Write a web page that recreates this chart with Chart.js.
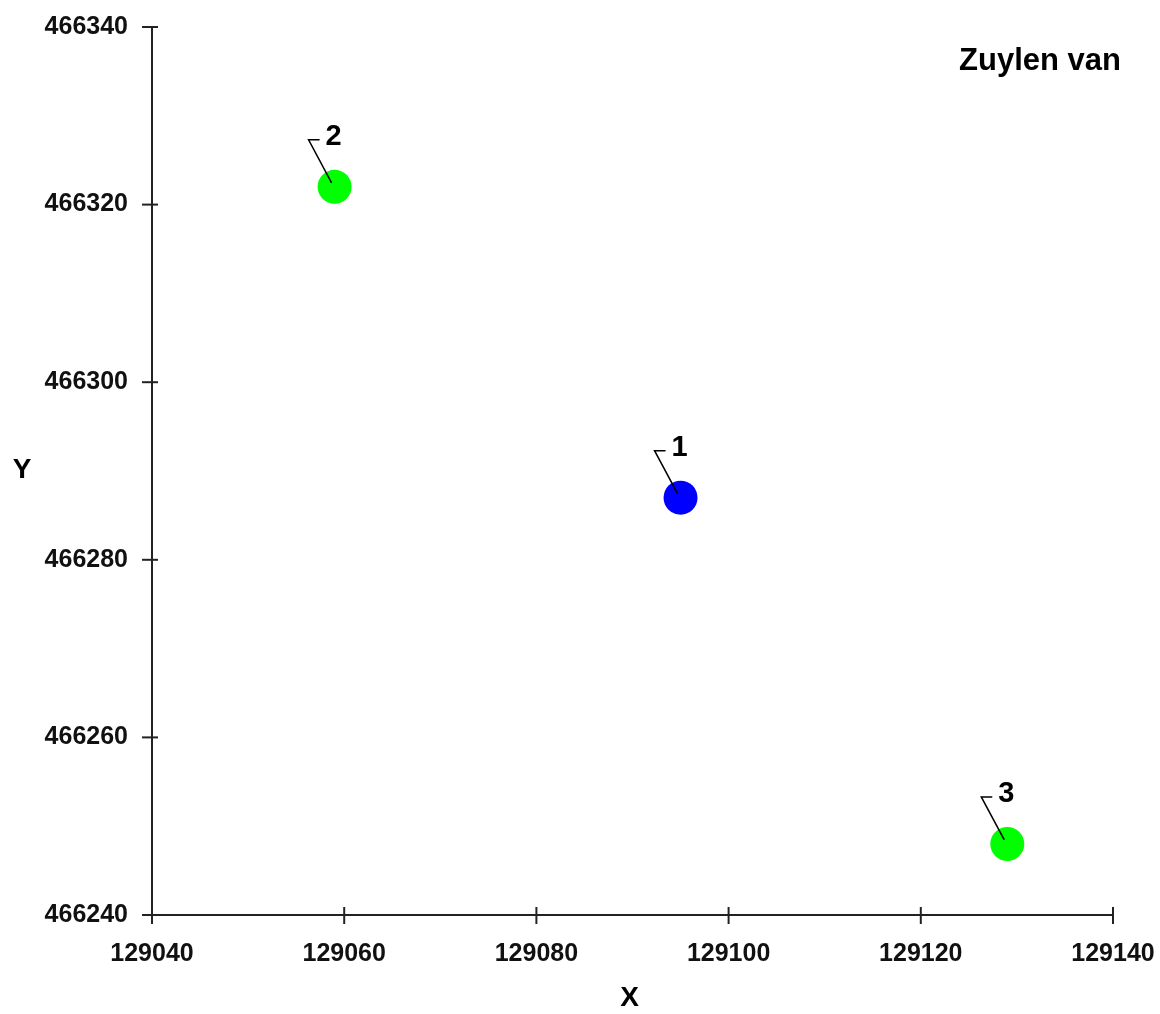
<!DOCTYPE html>
<html>
<head>
<meta charset="utf-8">
<script src="https://cdn.jsdelivr.net/npm/chart.js@4"></script>
<style>
  html, body { margin: 0; padding: 0; background: #fff; }
  #wrap { width: 1160px; height: 1014px; }
</style>
</head>
<body>
<div id="wrap"><canvas id="c" width="1160" height="1014"></canvas></div>
<script>
// ---- data ----
const pointLabels = ['1', '2', '3'];
const xValues = [129095, 129059, 129129];
const yValues = [466287, 466322, 466248];
const xTicks = [129040, 129060, 129080, 129100, 129120, 129140];
const yTicks = [466240, 466260, 466280, 466300, 466320, 466340];
const chartTitle = 'Zuylen van';
const xTitle = 'X';
const yTitle = 'Y';

// ---- styles ----
const pointColors = ['#0000FF', '#00FF00', '#00FF00'];
const FONT = '"Liberation Sans", Arial, sans-serif';

const points = xValues.map((x, i) => ({ x: x, y: yValues[i] }));

const overlay = {
  id: 'overlay',
  afterDatasetsDraw(chart) {
    const ctx = chart.ctx;
    const xs = chart.scales.x, ys = chart.scales.y;
    const a = chart.chartArea;
    ctx.save();
    // tick marks crossing the axes
    ctx.strokeStyle = '#222';
    ctx.lineWidth = 2;
    xTicks.forEach(v => {
      const px = xs.getPixelForValue(v);
      ctx.beginPath(); ctx.moveTo(px, a.bottom - 8); ctx.lineTo(px, a.bottom + 9); ctx.stroke();
    });
    yTicks.forEach(v => {
      const py = ys.getPixelForValue(v);
      ctx.beginPath(); ctx.moveTo(a.left - 10, py); ctx.lineTo(a.left + 6, py); ctx.stroke();
    });
    // leader lines and point labels
    const meta = chart.getDatasetMeta(0);
    ctx.lineWidth = 1.5;
    ctx.strokeStyle = '#000';
    ctx.fillStyle = '#000';
    ctx.font = 'bold 29px ' + FONT;
    ctx.textBaseline = 'middle';
    ctx.textAlign = 'left';
    meta.data.forEach((el, i) => {
      const cx = el.x, cy = el.y;
      ctx.beginPath();
      ctx.moveTo(cx - 3, cy - 4);
      ctx.lineTo(cx - 26, cy - 47);
      ctx.lineTo(cx - 15, cy - 47);
      ctx.stroke();
      ctx.fillText(pointLabels[i], cx - 9, cy - 50);
    });
    // title inside plot
    ctx.font = 'bold 31px ' + FONT;
    ctx.textAlign = 'right';
    ctx.textBaseline = 'alphabetic';
    ctx.fillText(chartTitle, 1121, 70);
    // axis titles
    ctx.font = 'bold 28px ' + FONT;
    ctx.textAlign = 'center';
    ctx.textBaseline = 'middle';
    ctx.fillText(xTitle, (a.left + a.right) / 2 - 3, 998);
    ctx.fillText(yTitle, 22, 470);
    ctx.restore();
  }
};

new Chart(document.getElementById('c'), {
  type: 'scatter',
  data: {
    datasets: [{
      data: points,
      pointRadius: 17,
      pointHoverRadius: 17,
      pointBorderWidth: 0,
      borderWidth: 0,
      backgroundColor: pointColors,
      pointBackgroundColor: pointColors
    }]
  },
  options: {
    responsive: false,
    animation: false,
    events: [],
    layout: { padding: { left: 0, top: 27, right: 47, bottom: 0 } },
    plugins: { legend: { display: false }, tooltip: { enabled: false }, title: { display: false } },
    scales: {
      x: {
        type: 'linear',
        min: xTicks[0], max: xTicks[xTicks.length - 1],
        afterBuildTicks: s => { s.ticks = xTicks.map(v => ({ value: v })); },
        afterFit: s => { s.height = 1014 - 915; s.paddingLeft = 0; s.paddingRight = 0; },
        grid: { display: false, drawTicks: false },
        border: { display: true, color: '#222', width: 2 },
        ticks: {
          color: '#111',
          font: { family: FONT, size: 25, weight: 'bold' },
          padding: 24,
          maxRotation: 0,
          autoSkip: false,
          callback: v => String(v)
        }
      },
      y: {
        type: 'linear',
        min: yTicks[0], max: yTicks[yTicks.length - 1],
        afterBuildTicks: s => { s.ticks = yTicks.map(v => ({ value: v })); },
        afterFit: s => { s.width = 152; s.paddingTop = 0; s.paddingBottom = 0; },
        grid: { display: false, drawTicks: false },
        border: { display: true, color: '#222', width: 2 },
        ticks: {
          color: '#111',
          font: { family: FONT, size: 25, weight: 'bold' },
          padding: 24,
          autoSkip: false,
          callback: v => String(v)
        }
      }
    }
  },
  plugins: [overlay]
});
</script>
</body>
</html>
